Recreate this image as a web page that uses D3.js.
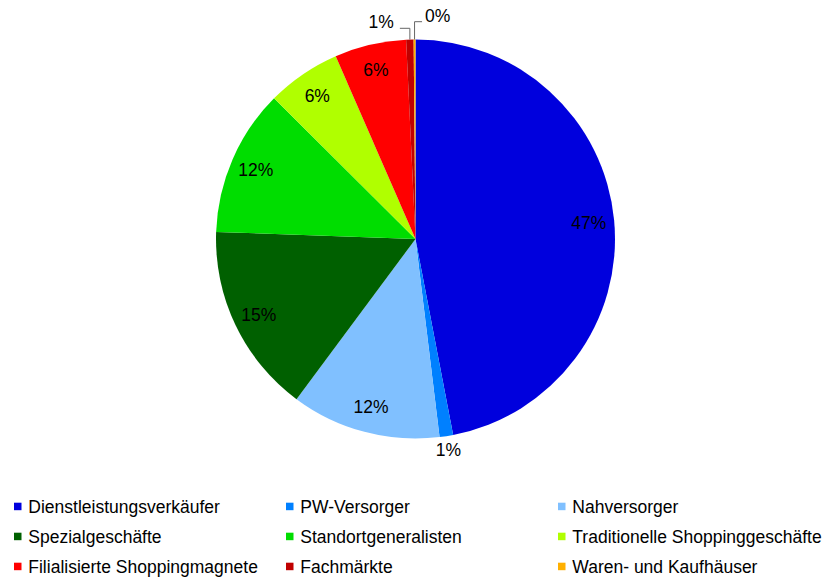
<!DOCTYPE html>
<html>
<head>
<meta charset="utf-8">
<script src="https://cdn.jsdelivr.net/npm/d3@7"></script>
<style>
body { margin: 0; background: #fff; }
text { font-family: "Liberation Sans", Arial, sans-serif; }
</style>
</head>
<body>
<div class="mydiv"></div>
<script>
var width = 829;
var height = 582;

// categories and shares (percent)
var categories = ["Dienstleistungsverkäufer", "PW-Versorger", "Nahversorger",
	"Spezialgeschäfte", "Standortgeneralisten", "Traditionelle Shoppinggeschäfte",
	"Filialisierte Shoppingmagnete", "Fachmärkte", "Waren- und Kaufhäuser"];
var values = [47.0, 1.1, 12.1, 15.4, 11.9, 6.0, 5.8, 0.6, 0.15];
var colors = ["#0000dd", "#0080ff", "#80c0ff", "#006000", "#00dd00", "#b0ff00",
	"#ff0000", "#c00000", "#ffb000"];

var cx = 415.5, cy = 239, radius = 199.5;
var fontSize = 17.5;

var svg = d3.select(".mydiv")
	.append("svg")
	.attr("width", width)
	.attr("height", height);

var pie = d3.pie().sort(null).value(function(d) { return d.value; });
var arc = d3.arc().innerRadius(0).outerRadius(radius);

var data = categories.map(function(c, i) {
	return { name: c, value: values[i], color: colors[i] };
});
var arcs = pie(data);

var g = svg.append("g").attr("transform", "translate(" + cx + "," + cy + ")");

g.selectAll("path.slice")
	.data(arcs)
	.enter()
	.append("path")
	.attr("class", "slice")
	.attr("d", arc)
	.attr("fill", function(d) { return d.data.color; });

function mid(d) { return (d.startAngle + d.endAngle) / 2; }
function pt(a, r) { return [r * Math.sin(a), -r * Math.cos(a)]; }
function label(d) { return Math.round(d.value) + "%"; }

// labels inside the slices (big ones), just outside for the small ones
var inside = arcs.filter(function(d) { return d.data.value >= 3; });
g.selectAll("text.inlabel")
	.data(inside)
	.enter()
	.append("text")
	.attr("class", "inlabel")
	.attr("x", function(d) { return pt(mid(d), 174)[0]; })
	.attr("y", function(d) { return pt(mid(d), 174)[1]; })
	.attr("dy", "0.35em")
	.attr("text-anchor", "middle")
	.attr("font-size", fontSize)
	.attr("fill", "#000")
	.text(label);

// PW-Versorger: outside without leader
var pw = arcs[1];
g.append("text")
	.attr("x", pt(mid(pw), 213)[0])
	.attr("y", pt(mid(pw), 213)[1])
	.attr("dy", "0.35em")
	.attr("text-anchor", "middle")
	.attr("font-size", fontSize)
	.text(label(pw));

// tiny slices at top get leader lines
var fach = arcs[7], waren = arcs[8];
var fp = pt(mid(fach), radius);
var wp = pt(mid(waren), radius);
var fy = 28.3 - cy, wy = 21.7 - cy;

g.append("polyline")
	.attr("points", [[fp[0], fp[1]], [fp[0], fy], [fp[0] - 10, fy]].join(" "))
	.attr("fill", "none")
	.attr("stroke", "#666")
	.attr("stroke-width", 1);
g.append("text")
	.attr("x", fp[0] - 16)
	.attr("y", fy)
	.attr("text-anchor", "end")
	.attr("font-size", fontSize)
	.text(label(fach));

g.append("polyline")
	.attr("points", [[wp[0], wp[1]], [wp[0], wy], [wp[0] + 7.5, wy]].join(" "))
	.attr("fill", "none")
	.attr("stroke", "#666")
	.attr("stroke-width", 1);
g.append("text")
	.attr("x", wp[0] + 10.5)
	.attr("y", wy)
	.attr("text-anchor", "start")
	.attr("font-size", fontSize)
	.text(label(waren));

// legend, 3 columns
var legend = svg.append("g");
var items = legend.selectAll("g.item")
	.data(data)
	.enter()
	.append("g")
	.attr("class", "item")
	.attr("transform", function(d, i) {
		var col = i % 3, row = Math.floor(i / 3);
		return "translate(" + (14 + col * 272) + "," + (513.3 + row * 30) + ")";
	});
items.append("rect")
	.attr("x", 0)
	.attr("y", -10.6)
	.attr("width", 7.5)
	.attr("height", 7.5)
	.attr("fill", function(d) { return d.color; });
items.append("text")
	.attr("x", 14.3)
	.attr("y", 0)
	.attr("font-size", fontSize)
	.attr("fill", "#000")
	.text(function(d) { return d.name; });
</script>
</body>
</html>
